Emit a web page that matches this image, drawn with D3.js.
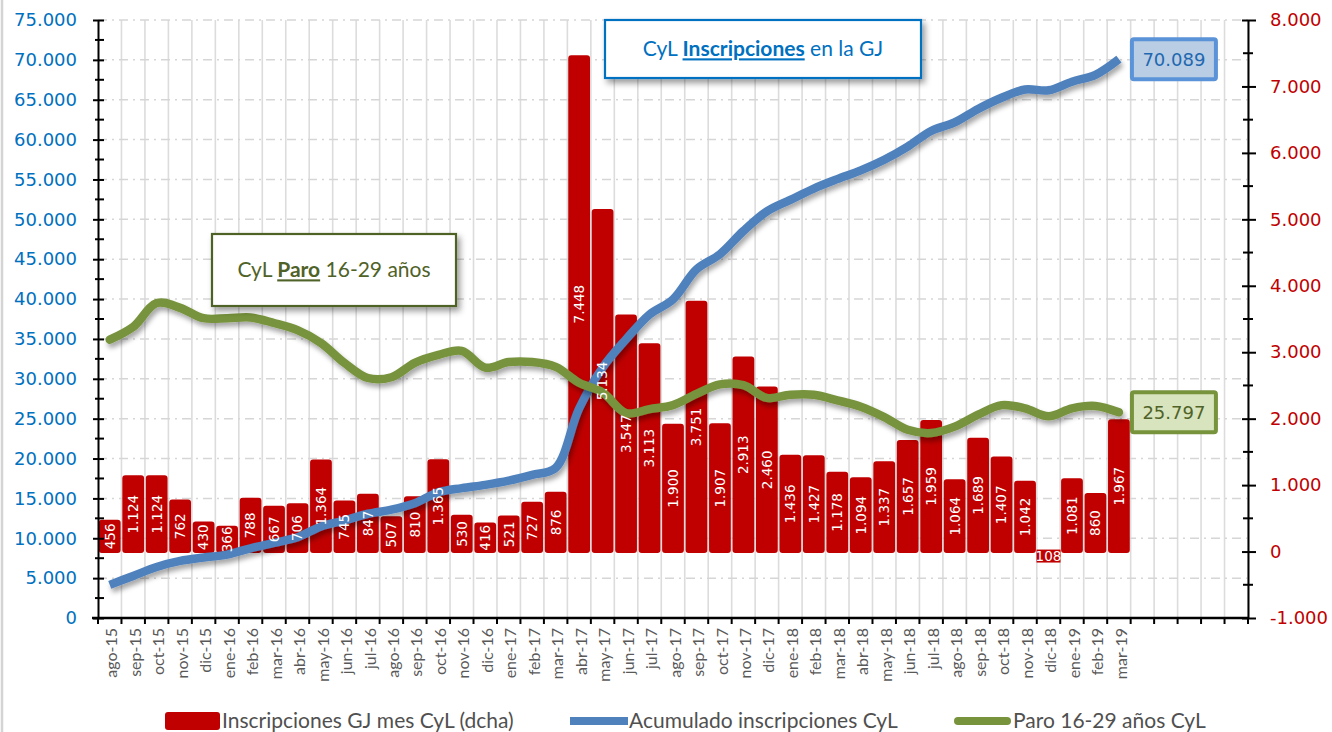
<!DOCTYPE html>
<html>
<head>
<meta charset="utf-8">
<script src="https://cdn.jsdelivr.net/npm/d3@7"></script>
<style>
  body { margin: 0; background: #fff; }
  svg { display: block; }
</style>
</head>
<body>
<div id="chart-area"></div>
<script>
// ---- data ----
const months = ["ago-15","sep-15","oct-15","nov-15","dic-15",
    "ene-16","feb-16","mar-16","abr-16","may-16","jun-16","jul-16","ago-16","sep-16","oct-16","nov-16","dic-16",
    "ene-17","feb-17","mar-17","abr-17","may-17","jun-17","jul-17","ago-17","sep-17","oct-17","nov-17","dic-17",
    "ene-18","feb-18","mar-18","abr-18","may-18","jun-18","jul-18","ago-18","sep-18","oct-18","nov-18","dic-18",
    "ene-19","feb-19","mar-19"];
const emptySlots = 5; // empty categories after mar-19

// Inscripciones GJ mes CyL (dcha) -> right axis
const monthly = [456,1124,1124,762,430,
    366,788,667,706,1364,745,847,507,810,1365,530,416,
    521,727,876,7448,5134,3547,3113,1900,3751,1907,2913,2460,
    1436,1427,1178,1094,1337,1657,1959,1064,1689,1407,1042,-108,
    1081,860,1967];

// Acumulado inscripciones CyL -> left axis
const accumulated = [4151,5275,6399,7161,7591,
    7957,8745,9412,10118,11482,12227,13074,13581,14391,15756,16286,16702,
    17223,17950,18826,26274,31408,34955,38068,39968,43719,45626,48539,50999,
    52435,53862,55040,56134,57471,59128,61087,62151,63840,65247,66289,66181,
    67262,68122,70089];

// Paro 16-29 años CyL -> left axis
const paro = [34900,36500,39500,38900,37600,
    37600,37700,37000,36100,34500,32000,30100,30200,32000,33000,33500,31400,
    32100,32100,31500,29500,28300,25700,26200,26700,28100,29300,29200,27600,
    28000,28000,27300,26500,25200,23600,23200,24000,25500,26700,26300,25300,
    26300,26600,25797];

const leftTicks = d3.range(0, 75001, 5000);
const rightTicks = d3.range(-1000, 8001, 1000);

const legendLabels = ["Inscripciones GJ mes CyL (dcha)", "Acumulado inscripciones CyL", "Paro 16-29 años CyL"];

// ---- canvas ----
const width = 1332, height = 732;
const plot = {left: 98, right: 1248, top: 20, bottom: 618};
const numFont = "'DejaVu Sans', Verdana, sans-serif";
const txtFont = "Lato, 'Open Sans', sans-serif";

const red = "#c00000", blue = "#4f81bd", green = "#77933c";

const es = d3.formatLocale({decimal: ",", thousands: ".", grouping: [3], currency: ["", " €"], minus: "-"});
const fmt = es.format(",d");

var svg = d3.select("#chart-area")
    .append("svg")
        .attr("width", width)
        .attr("height", height)
        .style("font-family", txtFont);

// drop shadows
var defs = svg.append("defs");
defs.append("filter")
    .attr("id", "lineShadow")
    .attr("x", "-5%").attr("y", "-10%").attr("width", "110%").attr("height", "130%")
  .append("feDropShadow")
    .attr("dx", 2).attr("dy", 4).attr("stdDeviation", 2.5)
    .attr("flood-color", "#000").attr("flood-opacity", 0.35);
defs.append("filter")
    .attr("id", "boxShadow")
    .attr("x", "-10%").attr("y", "-20%").attr("width", "130%").attr("height", "160%")
  .append("feDropShadow")
    .attr("dx", 3).attr("dy", 4).attr("stdDeviation", 3)
    .attr("flood-color", "#000").attr("flood-opacity", 0.4);

// outer frame line on the left
svg.append("line")
    .attr("x1", 2).attr("x2", 2).attr("y1", 0).attr("y2", height)
    .attr("stroke", "#d4d4d4").attr("stroke-width", 2.5);

// Scales
var x = d3.scaleBand()
    .domain(d3.range(months.length + emptySlots))
    .range([plot.left, plot.right])
    .padding(0);
var bw = x.bandwidth();

var yLeft = d3.scaleLinear()
    .domain([0, 75000])
    .range([plot.bottom, plot.top]);

var yRight = d3.scaleLinear()
    .domain([-1000, 8000])
    .range([plot.bottom, plot.top]);

// grid
var boundaries = d3.range(months.length + emptySlots + 1).map(i => plot.left + i * bw);
svg.append("g").attr("class", "v-grid")
    .selectAll("line")
    .data(boundaries.slice(1))
    .enter().append("line")
        .attr("x1", d => d).attr("x2", d => d)
        .attr("y1", plot.top).attr("y2", plot.bottom)
        .attr("stroke", "#dcdcdc")
        .attr("stroke-width", 1.6);

svg.append("g").attr("class", "h-grid")
    .selectAll("line")
    .data(leftTicks.filter(d => d > 0))
    .enter().append("line")
        .attr("x1", plot.left).attr("x2", plot.right)
        .attr("y1", d => yLeft(d)).attr("y2", d => yLeft(d))
        .attr("stroke", "#d6d6d6")
        .attr("stroke-width", 1.5)
        .attr("stroke-dasharray", "9,5,2,5");

// bars (outlined in the same red, so they sit ~1.5px proud like Excel's)
var bars = svg.append("g").attr("class", "bars");
bars.selectAll("rect")
    .data(monthly)
    .enter().append("rect")
        .attr("x", (d, i) => x(i) + bw * 0.1)
        .attr("width", bw * 0.8)
        .attr("y", d => Math.min(yRight(d), yRight(0)))
        .attr("height", d => Math.abs(yRight(d) - yRight(0)))
        .attr("rx", 1.5)
        .attr("fill", red)
        .attr("stroke", red)
        .attr("stroke-width", 3)
        .attr("stroke-linejoin", "round");

// lines
var line = (vals) => d3.line()
    .x((d, i) => x(i) + bw / 2)
    .y(d => yLeft(d))
    .curve(d3.curveCatmullRom.alpha(0.5))(vals);

svg.append("path")
    .attr("d", line(accumulated))
    .attr("fill", "none")
    .attr("stroke", blue)
    .attr("stroke-width", 8.5)
    .attr("filter", "url(#lineShadow)");

svg.append("path")
    .attr("d", line(paro))
    .attr("fill", "none")
    .attr("stroke", green)
    .attr("stroke-width", 8.5)
    .attr("stroke-linecap", "round")
    .attr("filter", "url(#lineShadow)");

// bar labels
var labels = svg.append("g").attr("class", "bar-labels")
    .style("font-family", numFont)
    .style("font-size", "13.5px")
    .attr("fill", "#fff");
monthly.forEach((v, i) => {
    var cx = x(i) + bw / 2;
    if (v >= 0) {
        var cy = (yRight(v) + yRight(0)) / 2;
        labels.append("text")
            .attr("transform", "translate(" + cx + "," + cy + ") rotate(-90)")
            .attr("text-anchor", "middle")
            .attr("dy", "0.36em")
            .text(fmt(v));
    } else {
        // small negative bar: label lies flat on a red box
        var cy2 = yRight(0) + 5;
        labels.append("rect")
            .attr("x", cx - 12).attr("y", cy2 - 7)
            .attr("width", 24).attr("height", 13)
            .attr("fill", red);
        labels.append("text")
            .attr("x", cx).attr("y", cy2)
            .attr("text-anchor", "middle")
            .attr("dy", "0.36em")
            .text(fmt(Math.abs(v)));
    }
});

// Axes
var leftAxis = svg.append("g")
    .attr("transform", "translate(" + plot.left + ",0)")
    .call(d3.axisLeft(yLeft).tickValues(leftTicks).tickFormat(fmt).tickSize(5).tickSizeOuter(0).tickPadding(16));
leftAxis.select(".domain").attr("stroke", "#000").attr("stroke-width", 2);
leftAxis.selectAll(".tick line").attr("x1", 6).attr("x2", -5).attr("stroke", "#000").attr("stroke-width", 2);
leftAxis.selectAll(".tick text")
    .attr("x", -21)
    .attr("fill", "#0070c0")
    .style("font-family", numFont)
    .style("font-size", "18px");
leftAxis.selectAll(".minor")
    .data(d3.range(2500, 75000, 5000))
    .enter().append("line")
        .attr("x1", -3).attr("x2", 6)
        .attr("y1", d => yLeft(d)).attr("y2", d => yLeft(d))
        .attr("stroke", "#000").attr("stroke-width", 2);

var rightAxis = svg.append("g")
    .attr("transform", "translate(" + plot.right + ",0)")
    .call(d3.axisRight(yRight).tickValues(rightTicks).tickFormat(fmt).tickSize(8).tickSizeOuter(0).tickPadding(14));
rightAxis.select(".domain").attr("stroke", "#000").attr("stroke-width", 2);
rightAxis.selectAll(".tick line").attr("x1", -6).attr("x2", 8).attr("stroke", "#000").attr("stroke-width", 2);
rightAxis.selectAll(".tick text")
    .attr("x", 22)
    .attr("fill", red)
    .style("font-family", numFont)
    .style("font-size", "18px");
rightAxis.selectAll(".minor")
    .data(d3.range(-500, 8000, 1000))
    .enter().append("line")
        .attr("x1", -5).attr("x2", 5)
        .attr("y1", d => yRight(d)).attr("y2", d => yRight(d))
        .attr("stroke", "#000").attr("stroke-width", 2);

// x axis: ticks on category boundaries, labels turned up
var xAxis = svg.append("g")
    .attr("transform", "translate(0," + plot.bottom + ")")
    .call(d3.axisBottom(x).tickFormat(i => months[i] || "").tickSize(0).tickSizeOuter(0));
xAxis.select(".domain").remove();
xAxis.append("line")
    .attr("x1", plot.left - 6).attr("x2", plot.right)
    .attr("stroke", "#000").attr("stroke-width", 2.5);
xAxis.selectAll(".bound")
    .data(boundaries)
    .enter().append("line")
        .attr("x1", d => d).attr("x2", d => d)
        .attr("y1", 0).attr("y2", 6)
        .attr("stroke", "#000").attr("stroke-width", 2);
xAxis.selectAll(".tick text")
    .attr("transform", "rotate(-90)")
    .attr("x", -10)
    .attr("y", 2)
    .attr("dy", "0.35em")
    .style("text-anchor", "end")
    .style("font-family", txtFont)
    .style("font-size", "16px")
    .attr("fill", "#595959");

// end-value callouts
var lastI = months.length - 1;
function endCallout(value, fill, stroke, textColor) {
    var cx = x(lastI) + bw / 2 + 13;
    var cy = yLeft(value);
    var g = svg.append("g");
    g.append("rect")
        .attr("x", cx).attr("y", cy - 20)
        .attr("width", 84).attr("height", 40)
        .attr("rx", 2)
        .attr("fill", fill)
        .attr("stroke", stroke)
        .attr("stroke-width", 4);
    g.append("text")
        .attr("x", cx + 42).attr("y", cy)
        .attr("dy", "0.36em")
        .attr("text-anchor", "middle")
        .attr("fill", textColor)
        .style("font-family", numFont)
        .style("font-size", "18px")
        .text(fmt(value));
}
endCallout(accumulated[lastI], "#b9cde5", "#5b93d8", "#1f68b0");
endCallout(paro[lastI], "#d7e4bd", green, "#4f6228");

// title boxes
function titleBox(bx, by, bw2, bh, color, parts) {
    var g = svg.append("g");
    g.append("rect")
        .attr("x", bx).attr("y", by)
        .attr("width", bw2).attr("height", bh)
        .attr("fill", "#fff")
        .attr("stroke", color)
        .attr("stroke-width", 2.2)
        .attr("filter", "url(#boxShadow)");
    var t = g.append("text")
        .attr("x", bx + bw2 / 2)
        .attr("y", by + bh / 2)
        .attr("dy", "0.35em")
        .attr("text-anchor", "middle")
        .attr("fill", color)
        .style("font-size", "21px");
    parts.forEach(p => {
        t.append("tspan")
            .style("font-weight", p.bold ? "bold" : "normal")
            .style("text-decoration", p.bold ? "underline" : "none")
            .text(p.text);
    });
}
titleBox(605, 20, 316, 58, "#0070c0", [{text: "CyL "}, {text: "Inscripciones", bold: true}, {text: " en la GJ"}]);
titleBox(212, 234, 244, 72, "#4f6228", [{text: "CyL "}, {text: "Paro", bold: true}, {text: " 16-29 años"}]);

// legend
var legendX = [165, 570, 954];
var legend = svg.append("g").attr("class", "legend");
legendLabels.forEach((label, i) => {
    var row = legend.append("g").attr("transform", "translate(" + legendX[i] + ",721)");
    if (i == 0) {
        row.append("rect")
            .attr("x", 0).attr("y", -9)
            .attr("width", 55).attr("height", 18)
            .attr("rx", 3)
            .attr("fill", red);
    } else {
        row.append("line")
            .attr("x1", i == 2 ? 4 : 0).attr("x2", i == 2 ? 53 : 58)
            .attr("stroke", i == 1 ? blue : green)
            .attr("stroke-width", 8)
            .attr("stroke-linecap", i == 2 ? "round" : "butt");
    }
    row.append("text")
        .attr("x", i == 0 ? 57 : 59)
        .attr("dy", "0.35em")
        .attr("fill", "#505050")
        .style("font-size", "21px")
        .text(label);
});
</script>
</body>
</html>
